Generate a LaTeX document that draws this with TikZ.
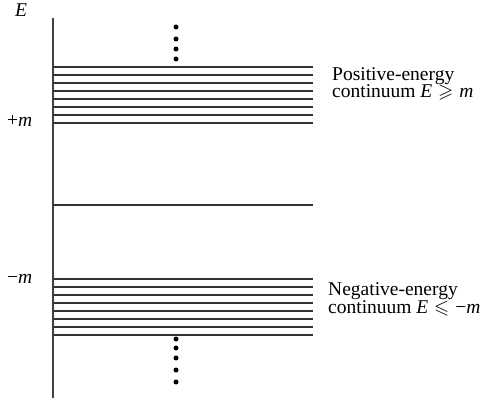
\documentclass[tikz,border=0pt]{standalone}
\usepackage{amssymb}
\usepackage{fontspec}
\setmainfont{Liberation Serif}
\newcommand{\relsp}{\kern0.3em}
\begin{document}
\begin{tikzpicture}[x=1pt,y=-1pt,
  lvl/.style={line width=1.3pt, draw=black!80},
  ax/.style={line width=1.5pt, draw=black!75},
  dot/.style={circle, fill=black, inner sep=0pt, minimum size=5pt},
  lbl/.style={font=\fontsize{19.5}{17}\selectfont, inner sep=0pt, anchor=base west},
  firstline/.style={lbl, text depth=0pt},
  secondline/.style={lbl, text height=9pt}]
\useasboundingbox (0,0) rectangle (485,398);
% axis
\coordinate (axtop) at (53,18);
\coordinate (axbot) at (53,398);
\draw[ax] (axtop) -- (axbot);
% positive continuum
\foreach \y in {67,75,...,123} {\draw[lvl] (53,\y) -- (313,\y);}
% middle level
\draw[lvl] (53,205) -- (313,205);
% negative continuum
\foreach \y in {279,287,...,335} {\draw[lvl] (53,\y) -- (313,\y);}
% dots
\foreach \y [count=\i] in {27,39,49,59} {\node[dot] (t\i) at (176,\y) {};}
\foreach \y [count=\i] in {339,348,358,370,382} {\node[dot] (b\i) at (176,\y) {};}
% labels
\node[lbl] (E) at (15,17) {\textit{E}};
\node[lbl] (pm) at (7,127) {+\textit{m}};
\node[lbl] (mm) at (7,284) {−\textit{m}};
\node[firstline] (p1) at (332,81) {Positive-energy};
\node[secondline] (p2) at (332,98) {continuum \textit{E}\relsp$\geqslant$\relsp\textit{m}};
\node[firstline] (n1) at (328,296) {Negative-energy};
\node[secondline] (n2) at (328,313) {continuum \textit{E}\relsp$\leqslant$\relsp−\textit{m}};
\end{tikzpicture}
\end{document}
